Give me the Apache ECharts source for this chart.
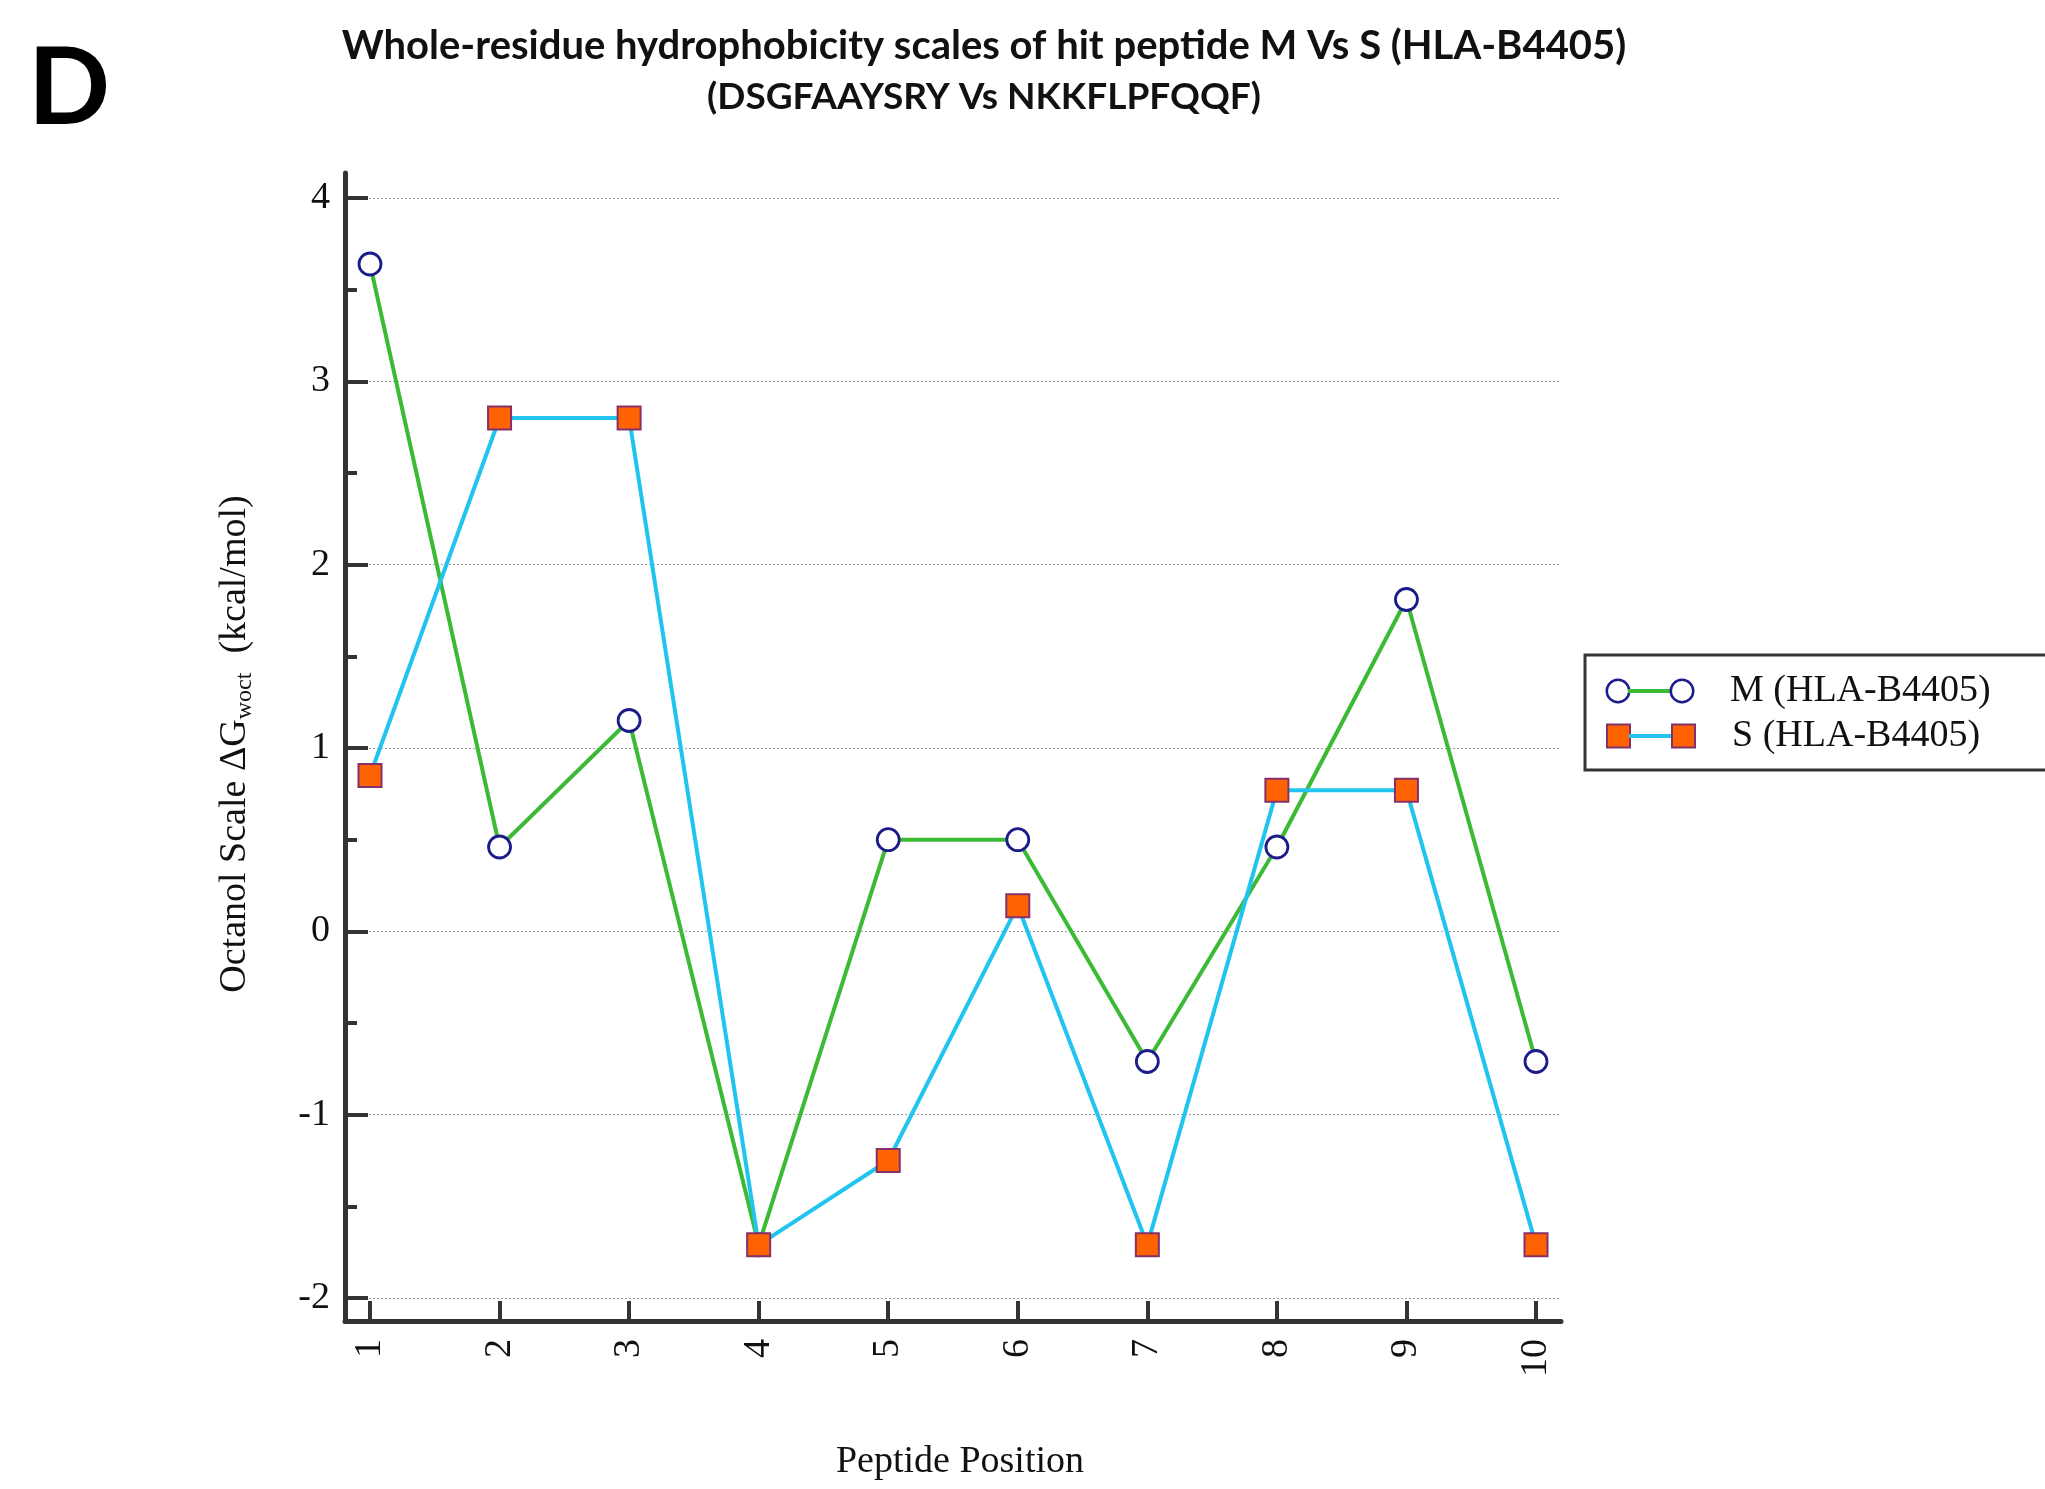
<!DOCTYPE html>
<html><head><meta charset="utf-8">
<script src="https://cdn.jsdelivr.net/npm/echarts@6/dist/echarts.min.js"></script>
<style>html,body{margin:0;padding:0;background:#fff}#c{width:2045px;height:1489px}</style>
</head><body><div id="c"></div>
<script>
// ---- data ----
const positions = [1, 2, 3, 4, 5, 6, 7, 8, 9, 10];
const seriesNames = ['M (HLA-B4405)', 'S (HLA-B4405)'];
const mValues = [3.64, 0.46, 1.15, -1.71, 0.50, 0.50, -0.71, 0.46, 1.81, -0.71];
const sValues = [0.85, 2.80, 2.80, -1.71, -1.25, 0.14, -1.71, 0.77, 0.77, -1.71];
const yRange = [-2, 4];
const xRange = [1, 10];
const titleLines = ['Whole-residue hydrophobicity scales of hit peptide M Vs S (HLA-B4405)', '(DSGFAAYSRY Vs NKKFLPFQQF)'];
const panelLetter = 'D';
const xAxisTitle = 'Peptide Position';
const yAxisTitle = ['Octanol Scale \u0394G', 'woct', '  (kcal/mol)'];

// ---- style ----
const SERIF = '"Liberation Serif", "Times New Roman", serif';
const AX = '#333333';
const GREEN = '#3dba35', CYAN = '#20c4ef', NAVY = '#1b1b8a', ORANGE = '#ff6200', PURPLE = '#86306a';

const chart = echarts.init(document.getElementById('c'), null, {renderer: 'canvas'});
const option = {
  animation: false,
  backgroundColor: '#fff',
  title: [
    {text: '{a|' + titleLines[0] + '}\n{b|' + titleLines[1] + '}', left: 984, top: 21, textAlign: 'center', padding: 0,
     textStyle: {fontFamily: 'Lato', fontWeight: 'bold', fontSize: 40, lineHeight: 51, color: '#111',
       rich: {
         a: {fontFamily: 'Lato', fontWeight: 'bold', fontSize: 40, lineHeight: 51, color: '#111'},
         b: {fontFamily: 'Lato', fontWeight: 'bold', fontSize: 37, lineHeight: 51, color: '#111'}
       }}},
    {text: panelLetter, left: 28, top: 35, padding: 0,
     textStyle: {fontFamily: 'Lato', fontWeight: 'bold', fontSize: 108, lineHeight: 108, color: '#000'}}
  ],
  grid: [
    {left: 345, top: 173, width: 1216, height: 1148},
    {left: 345, top: 198, width: 1216, height: 1100},
    {left: 370, top: 198, width: 1166, height: 1100}
  ],
  xAxis: [
    {gridIndex: 0, type: 'value', min: 0, max: 1,
     axisLine: {show: true, onZero: false, lineStyle: {color: AX, width: 5}},
     axisTick: {show: false}, axisLabel: {show: false}, splitLine: {show: false},
     name: xAxisTitle, nameLocation: 'middle', nameGap: 122,
     nameTextStyle: {fontFamily: SERIF, fontSize: 38, color: '#111', padding: [0, 0, 0, 14]}},
    {gridIndex: 1, type: 'value', min: 0, max: 1, show: false},
    {gridIndex: 2, type: 'value', min: xRange[0], max: xRange[1], interval: 1, offset: 23,
     axisLine: {show: false, onZero: false},
     axisTick: {show: true, inside: true, length: 20, lineStyle: {color: AX, width: 4}},
     axisLabel: {rotate: 90, margin: 18, fontFamily: SERIF, fontSize: 38, color: '#111'},
     splitLine: {show: false}}
  ],
  yAxis: [
    {gridIndex: 0, type: 'value', min: 0, max: 1,
     axisLine: {show: true, onZero: false, lineStyle: {color: AX, width: 5}},
     axisTick: {show: false}, axisLabel: {show: false}, splitLine: {show: false},
     name: '{a|' + yAxisTitle[0] + '}{s|' + yAxisTitle[1] + '}{a|' + yAxisTitle[2] + '}',
     nameLocation: 'middle', nameGap: 88, nameRotate: 90,
     nameTextStyle: {fontFamily: SERIF, fontSize: 38, color: '#111', padding: [0, 0, 0, 6],
       rich: {
         a: {fontFamily: SERIF, fontSize: 38, color: '#111', lineHeight: 44},
         s: {fontFamily: SERIF, fontSize: 24, color: '#111', lineHeight: 24, verticalAlign: 'bottom'}
       }}},
    {gridIndex: 1, type: 'value', min: yRange[0], max: yRange[1], interval: 1,
     axisLine: {show: false, onZero: false},
     axisTick: {show: true, inside: true, length: 23, lineStyle: {color: AX, width: 4}},
     minorTick: {show: true, splitNumber: 2, length: 12, lineStyle: {color: AX, width: 4}},
     axisLabel: {margin: 15, fontFamily: SERIF, fontSize: 38, color: '#111'},
     splitLine: {show: true, lineStyle: {type: [2, 2], color: '#9a9a9a', width: 1}}},
    {gridIndex: 2, type: 'value', min: yRange[0], max: yRange[1], show: false}
  ],
  legend: {
    left: 1585, top: 655, orient: 'vertical', icon: 'none', itemWidth: 0, itemHeight: 0, itemGap: 7,
    selectedMode: false,
    padding: [17, 80, 15, 18], borderColor: AX, borderWidth: 3, backgroundColor: '#fff',
    data: seriesNames,
    formatter: function (name) {
      return name === seriesNames[0]
        ? '{c|}{l1|}{c|}{t|' + name + '}'
        : '{s|}{l2|}{s|}{t|' + name + '}';
    },
    textStyle: {
      rich: {
        c: {width: 20, height: 20, borderColor: NAVY, borderWidth: 2.5, borderRadius: 12, backgroundColor: '#fff'},
        l1: {width: 44, height: 4, backgroundColor: GREEN},
        s: {width: 21, height: 21, backgroundColor: ORANGE, borderColor: PURPLE, borderWidth: 2},
        l2: {width: 44, height: 4, backgroundColor: CYAN},
        t: {fontFamily: SERIF, fontSize: 38, color: '#111', lineHeight: 41, padding: [0, 0, 0, 38]}
      }
    }
  },
  series: [
    {name: seriesNames[0], type: 'line', xAxisIndex: 2, yAxisIndex: 2,
     data: positions.map((p, i) => [p, mValues[i]]),
     symbol: 'circle', symbolSize: 22, clip: false,
     itemStyle: {color: '#fff', borderColor: NAVY, borderWidth: 2.8},
     lineStyle: {color: GREEN, width: 4},
     emphasis: {disabled: true}},
    {name: seriesNames[1], type: 'line', xAxisIndex: 2, yAxisIndex: 2,
     data: positions.map((p, i) => [p, sValues[i]]),
     symbol: 'rect', symbolSize: 23, clip: false,
     itemStyle: {color: ORANGE, borderColor: PURPLE, borderWidth: 2},
     lineStyle: {color: CYAN, width: 4},
     emphasis: {disabled: true}}
  ]
};
chart.setOption(option);
</script>
</body></html>
